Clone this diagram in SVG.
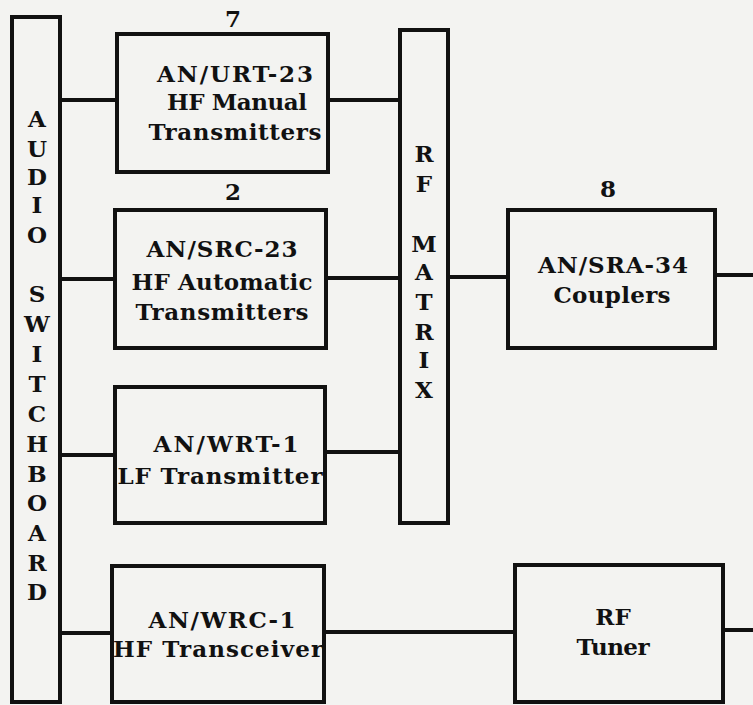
<svg xmlns="http://www.w3.org/2000/svg" width="753" height="705" viewBox="0 0 753 705">
<style>
.bx{fill:none;stroke:#111;stroke-width:4}
.ln{stroke:#111;stroke-width:4;fill:none}
text{font-family:"DejaVu Serif","Liberation Serif",serif;font-weight:bold;fill:#111;font-size:23px;text-anchor:middle}
.v{font-size:23px}
</style>
<rect x="0" y="0" width="753" height="705" fill="#f3f3f1"/>
<g id="connectors">
<line class="ln" x1="60" y1="100" x2="117" y2="100"/>
<line class="ln" x1="328" y1="100" x2="400" y2="100"/>
<line class="ln" x1="60" y1="279" x2="115" y2="279"/>
<line class="ln" x1="326" y1="278" x2="400" y2="278"/>
<line class="ln" x1="60" y1="455" x2="115" y2="455"/>
<line class="ln" x1="325" y1="452" x2="400" y2="452"/>
<line class="ln" x1="60" y1="633" x2="112" y2="633"/>
<line class="ln" x1="324" y1="632" x2="515" y2="632"/>
<line class="ln" x1="448" y1="277" x2="508" y2="277"/>
<line class="ln" x1="715" y1="275" x2="753" y2="275"/>
<line class="ln" x1="723" y1="630" x2="753" y2="630"/>
</g>
<g id="audio-switchboard">
<rect class="bx" x="12" y="17" width="48" height="685"/>
<text class="v" x="37" y="127">A</text>
<text class="v" x="37" y="157">U</text>
<text class="v" x="37" y="185">D</text>
<text class="v" x="37" y="213">I</text>
<text class="v" x="37" y="243">O</text>
<text class="v" x="37" y="302">S</text>
<text class="v" x="37" y="332">W</text>
<text class="v" x="37" y="362">I</text>
<text class="v" x="37" y="392">T</text>
<text class="v" x="37" y="422">C</text>
<text class="v" x="37" y="452">H</text>
<text class="v" x="37" y="482">B</text>
<text class="v" x="37" y="511">O</text>
<text class="v" x="37" y="541">A</text>
<text class="v" x="37" y="571">R</text>
<text class="v" x="37" y="600">D</text>
</g>
<g id="urt-23">
<text x="233" y="27">7</text>
<rect class="bx" x="117" y="34" width="211" height="138"/>
<text x="235" y="82" textLength="156" lengthAdjust="spacing">AN/URT-23</text>
<text x="237" y="110" textLength="140" lengthAdjust="spacing">HF Manual</text>
<text x="235" y="140" textLength="173" lengthAdjust="spacing">Transmitters</text>
</g>
<g id="src-23">
<text x="233" y="200">2</text>
<rect class="bx" x="115" y="210" width="211" height="138"/>
<text x="222" y="257" textLength="151" lengthAdjust="spacing">AN/SRC-23</text>
<text x="222" y="290" textLength="181" lengthAdjust="spacing">HF Automatic</text>
<text x="222" y="320" textLength="173" lengthAdjust="spacing">Transmitters</text>
</g>
<g id="wrt-1">
<rect class="bx" x="115" y="387" width="210" height="136"/>
<text x="226" y="452" textLength="145" lengthAdjust="spacing">AN/WRT-1</text>
<text x="220" y="484" textLength="205" lengthAdjust="spacing">LF Transmitter</text>
</g>
<g id="wrc-1">
<rect class="bx" x="112" y="566" width="212" height="136"/>
<text x="222" y="628" textLength="147" lengthAdjust="spacing">AN/WRC-1</text>
<text x="218" y="657" textLength="210" lengthAdjust="spacing">HF Transceiver</text>
</g>
<g id="rf-matrix">
<rect class="bx" x="400" y="30" width="48" height="493"/>
<text class="v" x="424" y="162">R</text>
<text class="v" x="424" y="192">F</text>
<text class="v" x="424" y="252">M</text>
<text class="v" x="424" y="280">A</text>
<text class="v" x="424" y="310">T</text>
<text class="v" x="424" y="340">R</text>
<text class="v" x="424" y="368">I</text>
<text class="v" x="424" y="398">X</text>
</g>
<g id="sra-34">
<text x="608" y="197">8</text>
<rect class="bx" x="508" y="210" width="207" height="138"/>
<text x="613" y="273" textLength="150" lengthAdjust="spacing">AN/SRA-34</text>
<text x="612" y="303" textLength="117" lengthAdjust="spacing">Couplers</text>
</g>
<g id="rf-tuner">
<rect class="bx" x="515" y="565" width="208" height="137"/>
<text x="613" y="625">RF</text>
<text x="613" y="655" textLength="73" lengthAdjust="spacing">Tuner</text>
</g>
</svg>
